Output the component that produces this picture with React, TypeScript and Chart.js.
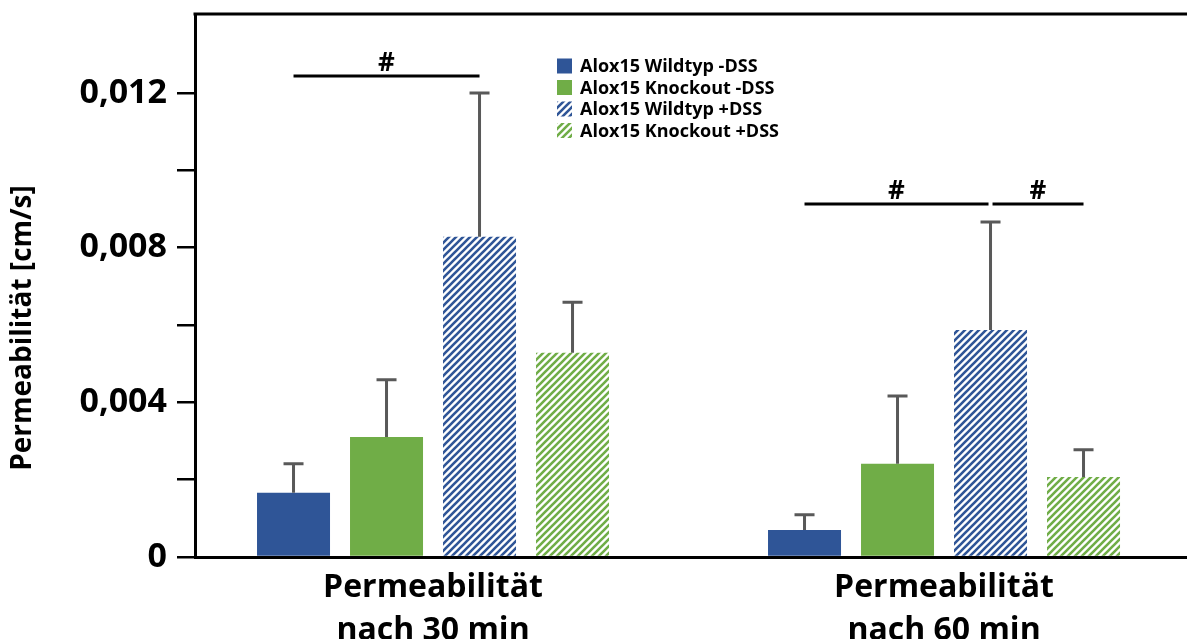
import React, { useEffect, useRef } from 'react';
import { Chart, registerables } from 'chart.js';
Chart.register(...registerables);

const categories = [['Permeabilität', 'nach 30 min'], ['Permeabilität', 'nach 60 min']];
const seriesLabels = ['Alox15 Wildtyp -DSS', 'Alox15 Knockout -DSS', 'Alox15 Wildtyp +DSS', 'Alox15 Knockout +DSS'];
const wtMinus = [0.00166, 0.0007];
const koMinus = [0.0031, 0.00241];
const wtPlus = [0.00828, 0.00587];
const koPlus = [0.00528, 0.00207];
const wtMinusErr = [0.00241, 0.00109];
const koMinusErr = [0.00458, 0.00416];
const wtPlusErr = [0.012, 0.00866];
const koPlusErr = [0.00659, 0.00277];
const yTickValues = [0, 0.002, 0.004, 0.006, 0.008, 0.01, 0.012];
const yLabeledTicks = [0, 0.004, 0.008, 0.012];
const yTickLabels = ['0', '0,004', '0,008', '0,012'];
const yTitle = 'Permeabilität [cm/s]';
const brackets = [
  { group: 0, from: 0, to: 2, y: 0.01244, label: '#' },
  { group: 1, from: 0, to: 2, y: 0.00913, label: '#' },
  { group: 1, from: 2, to: 3, y: 0.00913, label: '#' },
];

const BLUE = '#2F5597';
const GREEN = '#70AD47';
const FONT = '"Open Sans", "DejaVu Sans", sans-serif';

function hatch(color: string): CanvasPattern | string {
  const s = 7;
  const c = document.createElement('canvas');
  c.width = s;
  c.height = s;
  const g = c.getContext('2d');
  if (!g) return color;
  g.strokeStyle = color;
  g.lineWidth = 2.6;
  g.beginPath();
  g.moveTo(-1, s + 1);
  g.lineTo(s + 1, -1);
  g.moveTo(-1, 1);
  g.lineTo(1, -1);
  g.moveTo(s - 1, s + 1);
  g.lineTo(s + 1, s - 1);
  g.stroke();
  const p = g.createPattern(c, 'repeat');
  return p || color;
}

export default function App() {
  const ref = useRef<HTMLCanvasElement>(null);
  useEffect(() => {
    if (!ref.current) return;
    const values = [wtMinus, koMinus, wtPlus, koPlus];
    const errs = [wtMinusErr, koMinusErr, wtPlusErr, koPlusErr];
    const fills = [BLUE, GREEN, hatch(BLUE), hatch(GREEN)];

    const decor = {
      id: 'decor',
      afterDraw(chart: any) {
        const ctx = chart.ctx;
        const ca = chart.chartArea;
        ctx.save();
        // top frame line
        ctx.strokeStyle = '#000';
        ctx.lineWidth = 3;
        ctx.beginPath();
        ctx.moveTo(ca.left - 1.5, ca.top);
        ctx.lineTo(chart.width, ca.top);
        ctx.stroke();
        // y title
        ctx.save();
        ctx.translate(23, 328);
        ctx.rotate(-Math.PI / 2);
        ctx.font = `bold 28px ${FONT}`;
        ctx.fillStyle = '#000';
        ctx.textAlign = 'center';
        ctx.textBaseline = 'middle';
        ctx.fillText(yTitle, 0, 0);
        ctx.restore();
        // legend
        ctx.font = `bold 18px ${FONT}`;
        ctx.textAlign = 'left';
        ctx.textBaseline = 'middle';
        seriesLabels.forEach((lab, i) => {
          const cy = 66 + i * 21.5;
          ctx.fillStyle = chart.data.datasets[i].backgroundColor;
          ctx.fillRect(557, cy - 7.5, 15, 15);
          ctx.fillStyle = '#000';
          ctx.fillText(lab, 580, cy + 1);
        });
        ctx.restore();
      },
      afterDatasetsDraw(chart: any) {
        const ctx = chart.ctx;
        const ys = chart.scales.y;
        ctx.save();
        // error bars
        ctx.strokeStyle = '#595959';
        ctx.lineWidth = 3;
        errs.forEach((arr, i) => {
          const meta = chart.getDatasetMeta(i);
          arr.forEach((v, j) => {
            const el = meta.data[j];
            const yt = ys.getPixelForValue(v);
            ctx.beginPath();
            ctx.moveTo(el.x, el.y);
            ctx.lineTo(el.x, yt);
            ctx.moveTo(el.x - 10, yt);
            ctx.lineTo(el.x + 10, yt);
            ctx.stroke();
          });
        });
        // significance brackets
        ctx.strokeStyle = '#000';
        ctx.fillStyle = '#000';
        ctx.font = `bold 26px ${FONT}`;
        ctx.textAlign = 'center';
        ctx.textBaseline = 'alphabetic';
        brackets.forEach((b) => {
          let x1 = chart.getDatasetMeta(b.from).data[b.group].x;
          let x2 = chart.getDatasetMeta(b.to).data[b.group].x;
          if (brackets.some((o) => o !== b && o.group === b.group && o.from === b.to)) x2 -= 2;
          if (brackets.some((o) => o !== b && o.group === b.group && o.to === b.from)) x1 += 2;
          const yy = ys.getPixelForValue(b.y);
          ctx.beginPath();
          ctx.moveTo(x1, yy);
          ctx.lineTo(x2, yy);
          ctx.stroke();
          ctx.fillText(b.label, (x1 + x2) / 2, yy - 5);
        });
        ctx.restore();
      },
    };

    const chart = new Chart(ref.current, {
      type: 'bar',
      data: {
        datasets: values.map((arr, i) => ({
          label: seriesLabels[i],
          data: arr.map((v, j) => ({ x: j, y: v })),
          backgroundColor: fills[i] as any,
          borderWidth: 0,
          categoryPercentage: 0.728,
          barPercentage: 0.785,
        })),
      },
      options: {
        responsive: false,
        animation: false,
        layout: { padding: { top: 14, left: 0, right: 0, bottom: 0 } },
        plugins: { legend: { display: false }, tooltip: { enabled: false } },
        scales: {
          x: {
            type: 'linear',
            offset: false,
            min: -0.4658,
            max: 1.4755,
            afterBuildTicks: (s: any) => {
              s.ticks = [{ value: 0 }, { value: 1 }];
            },
            afterFit: (s: any) => {
              s.height = 82;
              s.paddingLeft = 0;
              s.paddingRight = 0;
            },
            grid: { display: false, drawTicks: false, offset: false },
            border: { display: true, color: '#000', width: 3 },
            ticks: {
              padding: 9,
              color: '#000',
              font: { family: FONT, size: 32, weight: 'bold', lineHeight: 1.35 },
              callback: (v: any) => categories[v] as any,
              maxRotation: 0,
              autoSkip: false,
            },
          },
          y: {
            min: 0,
            max: 0.01404,
            afterBuildTicks: (s: any) => {
              s.ticks = yTickValues.map((v) => ({ value: v }));
            },
            afterFit: (s: any) => {
              s.width = 195;
              s.paddingTop = 0;
              s.paddingBottom = 0;
            },
            grid: { drawOnChartArea: false, drawTicks: true, tickLength: 18, color: '#000', lineWidth: 2.5 },
            border: { display: true, color: '#000', width: 3 },
            ticks: {
              padding: 10,
              color: '#000',
              font: { family: FONT, size: 34, weight: 'bold' },
              autoSkip: false,
              callback: (v: any) => {
                const k = yLabeledTicks.findIndex((t) => Math.abs(t - v) < 1e-9);
                return k >= 0 ? yTickLabels[k] : '';
              },
            },
          },
        },
      },
      plugins: [decor],
    });
    return () => chart.destroy();
  }, []);
  return (
    <div style={{ position: 'fixed', left: 0, top: 0, width: 1187, height: 639, background: '#fff' }}>
      <canvas ref={ref} width={1187} height={639} style={{ display: 'block' }} />
    </div>
  );
}
